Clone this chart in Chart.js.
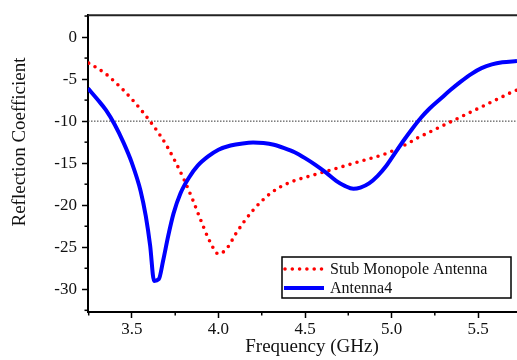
<!DOCTYPE html>
<html>
<head>
<meta charset="utf-8">
<script src="https://cdn.jsdelivr.net/npm/chart.js@4.4.1/dist/chart.umd.min.js"></script>
<style>
html,body{margin:0;padding:0;background:#fff;}
#wrap{width:517px;height:360px;}
</style>
</head>
<body>
<div id="wrap"><canvas id="c" width="517" height="360"></canvas></div>
<script>
// ---- data ----
const X_MIN = 3.246, X_MAX = 5.725;
const Y_MIN = -32.7, Y_MAX = 2.6;
const X_TICKS = [3.5, 4.0, 4.5, 5.0, 5.5];
const X_MINOR = [3.25, 3.75, 4.25, 4.75, 5.25];
const Y_TICKS = [0, -5, -10, -15, -20, -25, -30];
const Y_MINOR = [2.5, -2.5, -7.5, -12.5, -17.5, -22.5, -27.5, -32.5];
const THRESHOLD = -10;

const stubFreq = [3.25,3.30,3.35,3.40,3.45,3.50,3.55,3.60,3.65,3.70,3.75,3.80,3.85,3.90,3.95,4.00,4.05,4.10,4.15,4.20,4.25,4.30,4.35,4.40,4.45,4.50,4.55,4.60,4.65,4.70,4.75,4.80,4.85,4.90,4.95,5.00,5.05,5.10,5.15,5.20,5.25,5.30,5.35,5.40,5.45,5.50,5.55,5.60,5.65,5.70,5.725];
const stubS11  = [-3.1,-3.7,-4.4,-5.3,-6.3,-7.4,-8.6,-9.9,-11.3,-12.9,-14.8,-16.9,-19.3,-21.9,-24.3,-25.8,-25.1,-23.4,-21.9,-20.6,-19.5,-18.6,-17.9,-17.4,-17.0,-16.7,-16.4,-16.1,-15.8,-15.5,-15.2,-14.9,-14.6,-14.3,-14.0,-13.6,-13.1,-12.6,-12.0,-11.5,-11.0,-10.5,-10.0,-9.5,-9.0,-8.5,-8.0,-7.5,-7.0,-6.5,-6.3];

const antFreq = [3.246,3.30,3.35,3.40,3.45,3.50,3.55,3.58,3.605,3.628,3.655,3.68,3.71,3.74,3.78,3.83,3.88,3.94,4.00,4.07,4.14,4.20,4.26,4.32,4.38,4.44,4.50,4.56,4.62,4.68,4.73,4.78,4.82,4.87,4.92,4.97,5.02,5.07,5.12,5.17,5.22,5.28,5.34,5.40,5.46,5.52,5.58,5.64,5.725];
const antS11  = [-6.1,-7.4,-8.7,-10.4,-12.5,-15.0,-18.3,-21.3,-24.8,-29.0,-28.8,-26.6,-23.6,-21.0,-18.6,-16.7,-15.3,-14.2,-13.4,-12.9,-12.65,-12.55,-12.6,-12.8,-13.2,-13.7,-14.4,-15.2,-16.1,-17.1,-17.7,-18.05,-17.9,-17.4,-16.5,-15.3,-13.8,-12.3,-10.9,-9.6,-8.5,-7.4,-6.3,-5.3,-4.4,-3.7,-3.25,-3.0,-2.85];

const SERIES_NAMES = ['Stub Monopole Antenna', 'Antenna4'];
const X_TITLE = 'Frequency (GHz)';
const Y_TITLE = 'Reflection Coefficient';

const toXY = (xs, ys) => xs.map((x, i) => ({x: x, y: ys[i]}));
const FONT = '"Liberation Serif", "Times New Roman", serif';

const extras = {
  id: 'extras',
  afterDraw(chart) {
    const ctx = chart.ctx, xs = chart.scales.x, ys = chart.scales.y, ca = chart.chartArea;
    ctx.save();
    ctx.strokeStyle = '#000';
    ctx.lineWidth = 1.5;
    X_MINOR.forEach(v => {
      if (v < xs.min || v > xs.max) return;
      const p = xs.getPixelForValue(v);
      ctx.beginPath(); ctx.moveTo(p, ca.bottom); ctx.lineTo(p, ca.bottom + 3.5); ctx.stroke();
    });
    Y_MINOR.forEach(v => {
      if (v < ys.min || v > ys.max) return;
      const p = ys.getPixelForValue(v);
      ctx.beginPath(); ctx.moveTo(ca.left, p); ctx.lineTo(ca.left - 3.5, p); ctx.stroke();
    });
    // top frame
    ctx.lineWidth = 2;
    ctx.strokeStyle = '#222';
    ctx.beginPath(); ctx.moveTo(ca.left, ca.top); ctx.lineTo(ca.right, ca.top); ctx.stroke();

    // axis titles
    ctx.fillStyle = '#111';
    ctx.font = '19px ' + FONT;
    ctx.textAlign = 'center';
    ctx.textBaseline = 'middle';
    ctx.fillText(X_TITLE, 312, 347);
    ctx.save();
    ctx.translate(20, 142);
    ctx.rotate(-Math.PI / 2);
    ctx.fillText(Y_TITLE, 0, 0);
    ctx.restore();

    // legend
    const bx = 282, by = 257, bw = 229, bh = 41;
    ctx.fillStyle = '#fff';
    ctx.fillRect(bx, by, bw, bh);
    ctx.lineWidth = 1.5;
    ctx.strokeStyle = '#000';
    ctx.strokeRect(bx, by, bw, bh);
    ctx.font = '16px ' + FONT;
    ctx.textAlign = 'left';
    ctx.textBaseline = 'middle';
    const rows = [269, 288];
    chart.data.datasets.filter(d => !d.hideLegend).forEach((d, i) => {
      const y = rows[i];
      ctx.save();
      ctx.strokeStyle = d.borderColor;
      ctx.lineWidth = d.borderWidth;
      ctx.lineCap = d.borderCapStyle || 'butt';
      ctx.setLineDash(d.borderDash || []);
      ctx.beginPath(); ctx.moveTo(d.borderDash ? 285 : 284, y); ctx.lineTo(324, y); ctx.stroke();
      ctx.restore();
      ctx.fillStyle = '#111';
      ctx.fillText(d.label, 330, y + 1);
    });
    ctx.restore();
  }
};

new Chart(document.getElementById('c'), {
  type: 'line',
  data: {
    datasets: [
      {
        label: SERIES_NAMES[0],
        data: toXY(stubFreq, stubS11),
        borderColor: '#ff0000',
        borderWidth: 3.6,
        borderDash: [0, 7.3],
        borderCapStyle: 'round',
        pointRadius: 0,
        cubicInterpolationMode: 'monotone',
        order: 2
      },
      {
        label: SERIES_NAMES[1],
        data: toXY(antFreq, antS11),
        borderColor: '#0000ff',
        borderWidth: 4,
        borderJoinStyle: 'round',
        pointRadius: 0,
        cubicInterpolationMode: 'monotone',
        order: 1
      },
      {
        label: 'threshold',
        hideLegend: true,
        data: [{x: X_MIN, y: THRESHOLD}, {x: X_MAX, y: THRESHOLD}],
        borderColor: '#333',
        borderWidth: 1,
        borderDash: [1.5, 1.5],
        pointRadius: 0,
        order: 3
      }
    ]
  },
  options: {
    responsive: false,
    animation: false,
    devicePixelRatio: 1,
    layout: {padding: {top: 11, right: 0, left: 0, bottom: 0}},
    plugins: {legend: {display: false}, tooltip: {enabled: false}},
    scales: {
      x: {
        type: 'linear',
        min: X_MIN, max: X_MAX,
        afterBuildTicks: s => { s.ticks = X_TICKS.map(v => ({value: v})); },
        afterFit: s => { s.height = 48; },
        grid: {drawOnChartArea: false, drawTicks: true, tickLength: 6, tickColor: '#000', tickWidth: 1.5},
        border: {color: '#000', width: 2},
        ticks: {
          font: {family: FONT, size: 17},
          color: '#111',
          padding: 1,
          maxRotation: 0,
          callback: v => Number(v).toFixed(1)
        }
      },
      y: {
        type: 'linear',
        min: Y_MIN, max: Y_MAX,
        afterBuildTicks: s => { s.ticks = Y_TICKS.map(v => ({value: v})); },
        afterFit: s => { s.width = 88; },
        grid: {drawOnChartArea: false, drawTicks: true, tickLength: 6, tickColor: '#000', tickWidth: 1.5},
        border: {color: '#000', width: 2},
        ticks: {
          font: {family: FONT, size: 17},
          color: '#111',
          padding: 5,
          callback: v => String(v)
        }
      }
    }
  },
  plugins: [extras]
});
</script>
</body>
</html>
